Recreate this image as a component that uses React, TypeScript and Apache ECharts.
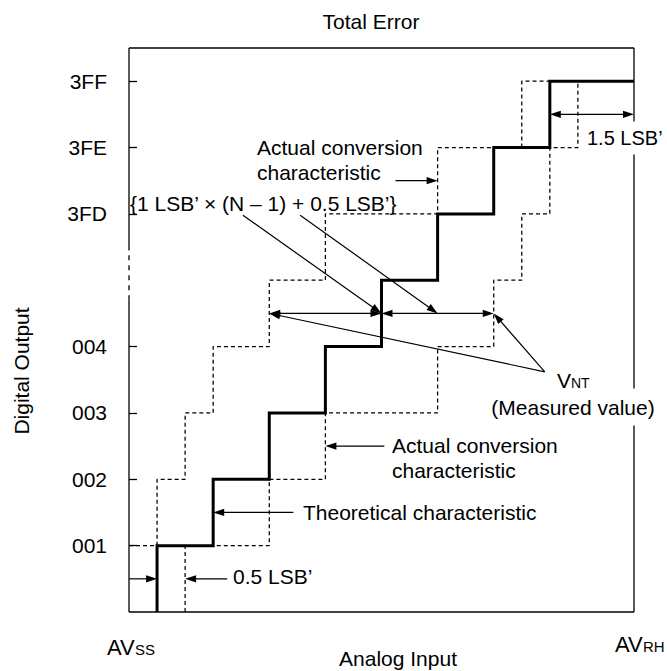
import React, { useEffect, useRef } from 'react';
import * as echarts from 'echarts';

// ---- data (in LSB' units on the input axis, code levels on the output axis) ----
const codeLevels = [1, 2, 3, 4, 6, 7, 8];
const codeLabels = ['001', '002', '003', '004', '3FD', '3FE', '3FF'];
const theoreticalSteps = [0.5, 1.5, 2.5, 3.5, 4.5, 5.5, 6.5, 7.5];
const actualEarlySteps = [0, 0.5, 1.0, 1.5, 2.5, 3.5, 5.5, 7.0];
const actualLateSteps = [1.0, 2.5, 3.5, 5.5, 6.5, 7.0, 7.5, 8.0];
const inputMax = 9;
const outputMax = 8.5;
const axisBreak = [4.7, 5.45];

const FONT = '"Liberation Sans", Arial, Helvetica, sans-serif';
const FS = 21;

const stepPoints = (steps: number[]) => {
  const pts: number[][] = [];
  steps.forEach((t, i) => {
    if (t > 0) pts.push([t, i]);
    pts.push([t, i + 1]);
  });
  pts.push([inputMax, steps.length]);
  return pts;
};

// annotation arrows: [x1, y1, x2, y2, headAtStart, headAtEnd]
const arrows = [
  [theoreticalSteps[7], 7.5, inputMax, 7.5, 1, 1],
  [4.75, 6.5, actualEarlySteps[6], 6.5, 0, 1],
  [actualEarlySteps[4], 4.5, theoreticalSteps[4], 4.5, 1, 1],
  [theoreticalSteps[4], 4.5, actualLateSteps[4], 4.5, 1, 1],
  [2.03, 5.98, theoreticalSteps[4], 4.5, 0, 1],
  [3.05, 5.98, 5.5, 4.5, 0, 1],
  [7.41, 3.62, actualEarlySteps[4], 4.5, 0, 1],
  [7.41, 3.62, actualLateSteps[4], 4.5, 0, 1],
  [4.55, 2.5, actualLateSteps[2], 2.5, 0, 1],
  [2.93, 1.5, theoreticalSteps[1], 1.5, 0, 1],
  [0, 0.5, theoreticalSteps[0], 0.5, 0, 1],
  [1.75, 0.5, actualLateSteps[0], 0.5, 0, 1],
];

// frame segments: [x1, y1, x2, y2, dashed]
const frame = [
  [0, 0, inputMax, 0, 0],
  [0, outputMax, inputMax, outputMax, 0],
  [inputMax, outputMax, inputMax, 0, 0],
  [0, 0, 0, axisBreak[0], 0],
  [0, axisBreak[0], 0, axisBreak[1], 1],
  [0, axisBreak[1], 0, outputMax, 0],
];

const renderArrow = (_params: any, api: any) => {
  const a = api.coord([api.value(0), api.value(1)]);
  const b = api.coord([api.value(2), api.value(3)]);
  const hs = api.value(4);
  const he = api.value(5);
  const dx = b[0] - a[0];
  const dy = b[1] - a[1];
  const len = Math.hypot(dx, dy) || 1;
  const ux = dx / len;
  const uy = dy / len;
  const L = 11;
  const W = 3.6;
  const head = (tip: number[], dxu: number, dyu: number) => ({
    type: 'polygon',
    shape: {
      points: [
        [tip[0], tip[1]],
        [tip[0] - dxu * L - dyu * W, tip[1] - dyu * L + dxu * W],
        [tip[0] - dxu * L + dyu * W, tip[1] - dyu * L - dxu * W],
      ],
    },
    style: { fill: '#000' },
  });
  const s = hs ? [a[0] + ux * L * 0.7, a[1] + uy * L * 0.7] : a;
  const e = he ? [b[0] - ux * L * 0.7, b[1] - uy * L * 0.7] : b;
  const children: any[] = [
    { type: 'line', shape: { x1: s[0], y1: s[1], x2: e[0], y2: e[1] }, style: { stroke: '#000', lineWidth: 1.2 } },
  ];
  if (he) children.push(head(b, ux, uy));
  if (hs) children.push(head(a, -ux, -uy));
  return { type: 'group', children };
};

const renderSegment = (_params: any, api: any) => {
  const a = api.coord([api.value(0), api.value(1)]);
  const b = api.coord([api.value(2), api.value(3)]);
  const dashed = api.value(4);
  return {
    type: 'line',
    shape: { x1: a[0], y1: a[1], x2: b[0], y2: b[1] },
    style: { stroke: '#000', lineWidth: 1.3, lineDash: dashed ? [5, 5] : null },
  };
};

const txt = (text: string, x: number, y: number, extra: any = {}, z = 100) => ({
  type: 'text',
  x,
  y,
  z,
  style: {
    text,
    fill: '#000',
    fontSize: FS,
    fontFamily: FONT,
    align: 'left',
    verticalAlign: 'middle',
    ...extra,
  },
});

// main glyphs + small-caps suffix sharing a baseline
const subText = (main: string, small: string, left: number, baseline: number, mainSize: number, smallSize: number, mainWidth: number, z = 110) => [
  txt(main, left, baseline - 0.35 * mainSize, { fontSize: mainSize }, z),
  txt(small, left + mainWidth, baseline - 0.35 * smallSize, { fontSize: smallSize }, z),
];

export default function App() {
  const ref = useRef<HTMLDivElement>(null);
  useEffect(() => {
    if (!ref.current) return;
    const chart = echarts.init(ref.current, undefined, { renderer: 'svg' });
    const dashStyle = { color: '#000', width: 1.25, type: [4, 3] as any };
    chart.setOption({
      animation: false,
      backgroundColor: '#fff',
      grid: { left: 129, top: 48, width: 505, height: 564, containLabel: false },
      xAxis: {
        type: 'value',
        min: 0,
        max: inputMax,
        axisLine: { show: false },
        axisTick: { show: false },
        axisLabel: { show: false },
        splitLine: { show: false },
      },
      yAxis: {
        type: 'value',
        min: 0,
        max: outputMax,
        interval: 1,
        axisLine: { show: false },
        splitLine: { show: false },
        axisTick: {
          show: true,
          inside: true,
          length: 8,
          customValues: codeLevels,
          lineStyle: { color: '#000', width: 1.3 },
        },
        axisLabel: {
          customValues: codeLevels,
          formatter: (v: number) => {
            const i = codeLevels.indexOf(Math.round(v * 100) / 100);
            return i >= 0 ? codeLabels[i] : '';
          },
          margin: 22,
          fontSize: FS,
          color: '#000',
          fontFamily: FONT,
        },
      },
      series: [
        {
          type: 'line',
          name: 'Actual (early)',
          data: stepPoints(actualEarlySteps),
          symbol: 'none',
          clip: false,
          lineStyle: dashStyle,
          z: 2,
        },
        {
          type: 'line',
          name: 'Actual (late)',
          data: stepPoints(actualLateSteps),
          symbol: 'none',
          clip: false,
          lineStyle: dashStyle,
          z: 2,
        },
        {
          type: 'line',
          name: 'Theoretical',
          data: stepPoints(theoreticalSteps),
          symbol: 'none',
          clip: false,
          lineStyle: { color: '#000', width: 3, join: 'miter', cap: 'butt' },
          z: 3,
        },
        {
          type: 'custom',
          name: 'frame',
          renderItem: renderSegment,
          data: frame,
          clip: false,
          encode: { x: [0, 2], y: [1, 3] },
          z: 4,
        },
        {
          type: 'custom',
          name: 'arrows',
          renderItem: renderArrow,
          data: arrows,
          clip: false,
          encode: { x: [0, 2], y: [1, 3] },
          z: 5,
        },
      ],
      graphic: [
        txt('Total Error', 371, 21, { align: 'center' }),
        txt('1.5 LSB\u2019', 585, 138, { fontSize: 20, backgroundColor: '#fff', padding: [10, 1, 3, 2] }),
        txt('Actual conversion\ncharacteristic', 257, 159.5, { lineHeight: 25 }),
        txt('{1 LSB\u2019 \u00d7 (N \u2013 1) + 0.5 LSB\u2019}', 130, 203),
        txt('(Measured value)', 573, 407, { align: 'center', backgroundColor: '#fff', padding: [8, 2, 8, 2] }, 100),
        ...subText('V', 'NT', 557, 388, 21, 14, 14),
        txt('Actual conversion\ncharacteristic', 392, 457.5, { lineHeight: 25 }),
        txt('Theoretical characteristic', 303, 512),
        txt('0.5 LSB\u2019', 233, 576),
        ...subText('AV', 'SS', 107, 655, 22, 15, 28),
        ...subText('AV', 'RH', 615, 652, 22, 15, 28),
        txt('Analog Input', 398, 658, { align: 'center' }),
        {
          type: 'text',
          x: 21,
          y: 371,
          rotation: Math.PI / 2,
          z: 100,
          style: {
            text: 'Digital Output',
            fill: '#000',
            fontSize: FS,
            fontFamily: FONT,
            align: 'center',
            verticalAlign: 'middle',
          },
        },
      ],
    });
    return () => chart.dispose();
  }, []);
  return <div ref={ref} style={{ position: 'fixed', left: 0, top: 0, width: 667, height: 671 }} />;
}
